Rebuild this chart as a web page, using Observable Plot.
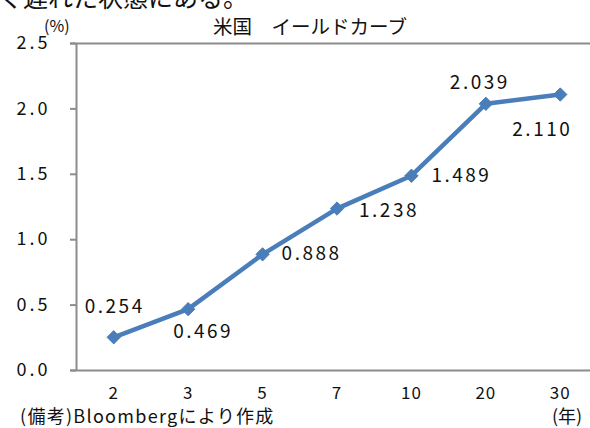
<!DOCTYPE html>
<html>
<head>
<meta charset="utf-8">
<script src="https://cdn.jsdelivr.net/npm/d3@7"></script>
<script src="https://cdn.jsdelivr.net/npm/@observablehq/plot@0.6"></script>
<style>
  html, body { margin: 0; padding: 0; background: #fff; }
  body { width: 590px; height: 428px; overflow: hidden; font-family: "Noto Sans CJK JP", sans-serif; color: #111; }
  #header { position: relative; height: 36px; }
  #footer { position: relative; height: 28px; }
  .abs { position: absolute; white-space: nowrap; line-height: 1; }
  #frag { position: absolute; left: 0; top: 0; width: 590px; height: 10px; overflow: hidden; }
  #frag span { position: absolute; left: -2px; top: -16px; font-size: 25px; line-height: 1; white-space: nowrap; }
  svg { display: block; }
  g[aria-label="text"] text { letter-spacing: 2.5px; }
  g[aria-label="y-axis tick label"] text { letter-spacing: 3px; }
  g[aria-label="x-axis tick label"] text { letter-spacing: 1px; }
</style>
</head>
<body>
<div id="header">
  <div id="frag"><span>く遅れた状態にある。</span></div>
  <div class="abs" id="unit" style="left:44px; top:17px; font-size:16px;">(%)</div>
  <div class="abs" id="title" style="left:200px; top:16px; font-size:19.5px; width:220px; text-align:center;"></div>
</div>
<div id="chart"></div>
<div id="footer">
  <div class="abs" id="caption" style="left:20px; top:6px; font-size:18px; letter-spacing:1.3px;"></div>
  <div class="abs" id="xunit" style="left:552px; top:6px; font-size:18px;">(年)</div>
</div>
<script>
// ---- data ----
const title = "米国\u3000イールドカーブ";
const caption = "(備考)Bloombergにより作成";
const maturities = ["2", "3", "5", "7", "10", "20", "30"];
const yields = [0.254, 0.469, 0.888, 1.238, 1.489, 2.039, 2.110];
const yTicks = [0, 0.5, 1.0, 1.5, 2.0, 2.5];

// ---- label placement (style config) ----
const labelOffsets = [
  {dx: 1, dy: -30}, {dx: 15, dy: 23}, {dx: 49, dy: 0}, {dx: 52, dy: 2},
  {dx: 50, dy: 0}, {dx: -6, dy: -21}, {dx: -18, dy: 35}
];

document.getElementById("title").textContent = title;
document.getElementById("caption").textContent = caption;

const rows = maturities.map((m, i) => ({i, m, v: yields[i], dx: labelOffsets[i].dx, dy: labelOffsets[i].dy}));
const fmt = d3.format(".3f");
const blue = "#4a7ebb";
const axisGray = "#8c8c8c";

const labelMarks = rows.map(r => Plot.text([r], {
  x: "i", y: "v", text: d => fmt(d.v), dx: r.dx, dy: r.dy,
  fontSize: 19, fill: "#111"
}));

const chart = Plot.plot({
  width: 590,
  height: 364,
  marginLeft: 76,
  marginRight: 0,
  marginTop: 7,
  marginBottom: 30,
  style: {fontFamily: "'Noto Sans CJK JP', sans-serif", background: "#fff", overflow: "visible"},
  x: {domain: [-0.5, maturities.length - 0.5], range: [76, 597]},
  y: {domain: [0, 2.5], range: [334, 7]},
  marks: [
    Plot.ruleY([0, 2.5], {stroke: axisGray, strokeWidth: 2, insetLeft: -6}),
    Plot.ruleX([-0.5], {stroke: axisGray, strokeWidth: 2}),
    Plot.axisY({ticks: yTicks, tickFormat: d3.format(".1f"), tickSize: 6, tickPadding: 20,
      stroke: axisGray, strokeWidth: 2, fontSize: 18, fill: "#111", label: null}),
    Plot.axisX({ticks: d3.range(maturities.length), tickFormat: i => maturities[i], tickSize: 0,
      tickPadding: 16, fontSize: 17, fill: "#111", label: null}),
    Plot.line(rows, {x: "i", y: "v", stroke: blue, strokeWidth: 4.5, curve: "linear"}),
    Plot.dot(rows, {x: "i", y: "v", symbol: "diamond2", r: 6, fill: blue, stroke: blue, strokeWidth: 1}),
    ...labelMarks
  ]
});
document.getElementById("chart").appendChild(chart);
</script>
</body>
</html>
